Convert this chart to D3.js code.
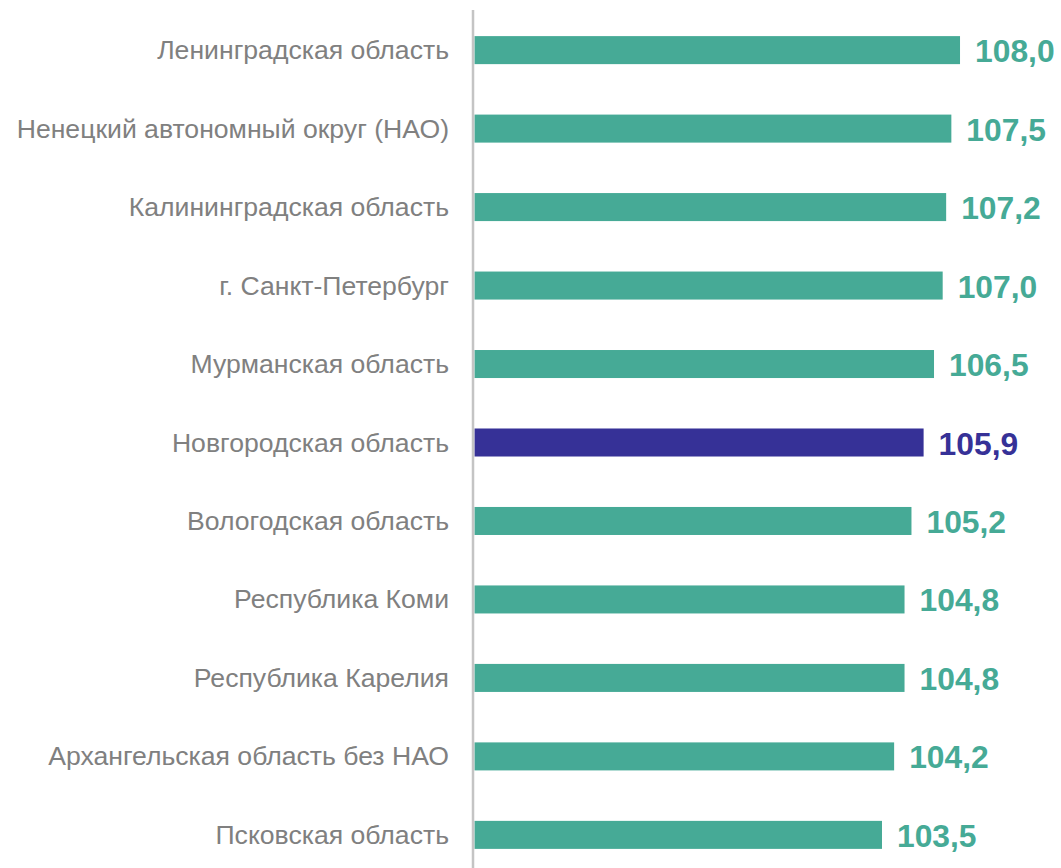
<!DOCTYPE html>
<html><head><meta charset="utf-8">
<script src="https://cdn.jsdelivr.net/npm/d3@7"></script>
<style>body{margin:0;background:#fff}svg{display:block}</style>
</head><body>
<svg id="c" width="1061" height="868"></svg>
<script>
const categories = ["Ленинградская область","Ненецкий автономный округ (НАО)","Калининградская область","г. Санкт-Петербург","Мурманская область","Новгородская область","Вологодская область","Республика Коми","Республика Карелия","Архангельская область без НАО","Псковская область"];
const values = [108.0,107.5,107.2,107.0,106.5,105.9,105.2,104.8,104.8,104.2,103.5];
const valueLabels = ["108,0","107,5","107,2","107,0","106,5","105,9","105,2","104,8","104,8","104,2","103,5"];
const highlighted = "Новгородская область";

const teal = "#46aa96", blue = "#363197";
const svg = d3.select("#c");
const x = d3.scaleLinear().domain([80, 110]).range([474.5, 474.5 + 30*17.34]);
const y = d3.scaleBand().domain(categories).range([11, 874]).paddingInner(0.643).paddingOuter(0.32);

svg.selectAll("rect.bar").data(values).enter().append("rect")
  .attr("x", x(80)).attr("y", (d,i)=>y(categories[i]))
  .attr("width", d=>x(d)-x(80)).attr("height", y.bandwidth())
  .attr("fill", (d,i)=>categories[i]===highlighted?blue:teal);

svg.append("line").attr("x1",473).attr("x2",473).attr("y1",10).attr("y2",868)
  .attr("stroke","#c4c4c4").attr("stroke-width",2.5);

svg.selectAll("text.cat").data(categories).enter().append("text")
  .attr("x",449).attr("y",d=>y(d)+y.bandwidth()/2)
  .attr("text-anchor","end").attr("dominant-baseline","central")
  .attr("font-family","Liberation Sans, Arial, sans-serif").attr("font-size",26.6)
  .attr("fill","#808080").text(d=>d);

svg.selectAll("text.val").data(values).enter().append("text")
  .attr("x",d=>x(d)+15).attr("y",(d,i)=>y(categories[i])+y.bandwidth()/2+1)
  .attr("dominant-baseline","central")
  .attr("font-family","Liberation Sans, Arial, sans-serif").attr("font-size",31.8).attr("font-weight","bold")
  .attr("fill",(d,i)=>categories[i]===highlighted?blue:teal).text((d,i)=>valueLabels[i]);
</script>
</body></html>
